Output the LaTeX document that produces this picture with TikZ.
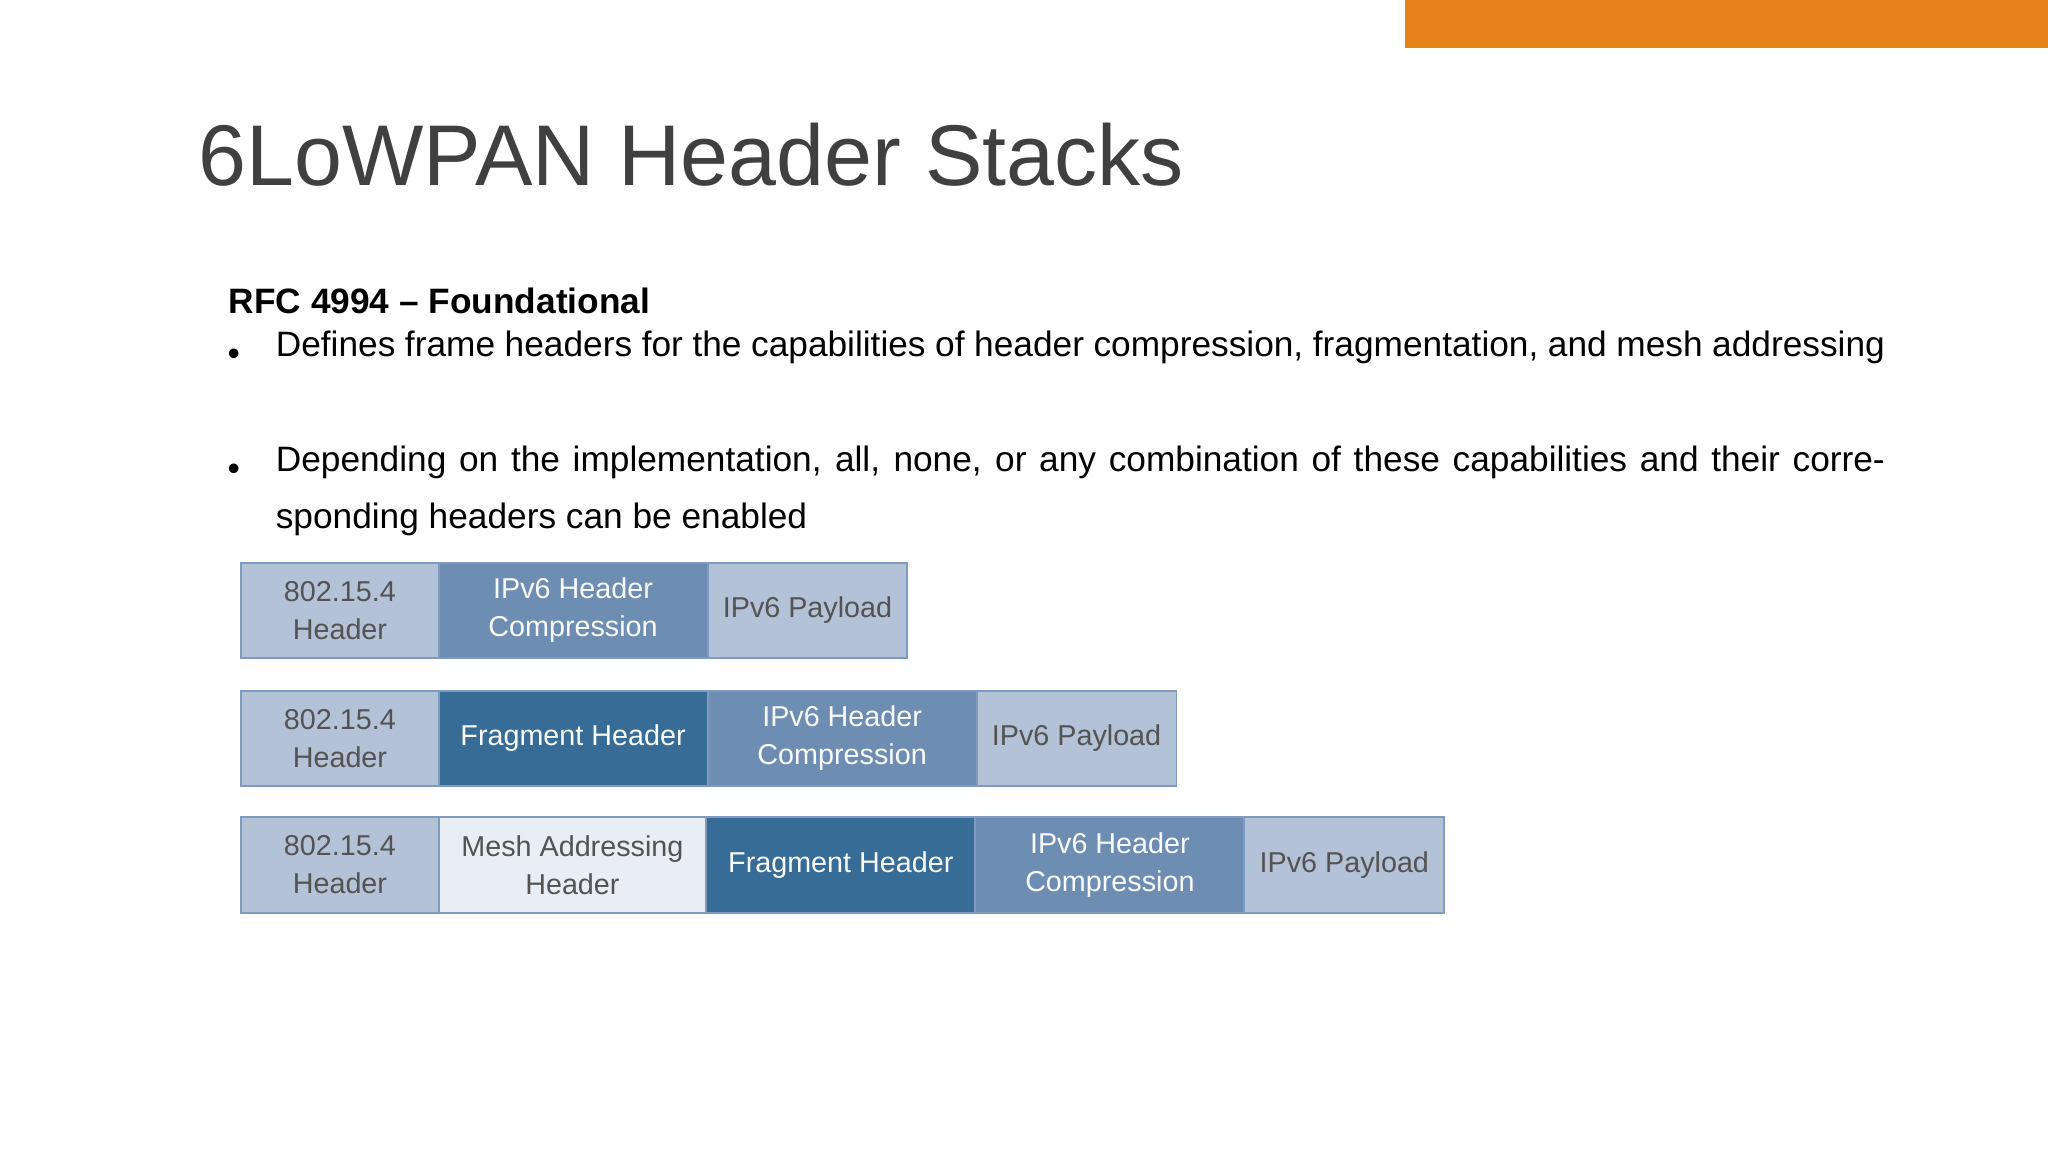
\documentclass[tikz,border=0pt]{standalone}
\usepackage{fontspec}
\setmainfont{Liberation Sans}
\definecolor{orng}{HTML}{E6821A}
\definecolor{ttl}{HTML}{404040}
\definecolor{bl}{HTML}{B3C2D6}
\definecolor{md}{HTML}{6E8DB2}
\definecolor{dk}{HTML}{376C96}
\definecolor{ms}{HTML}{E9EEF4}
\definecolor{bd}{HTML}{7F9CC0}
\tikzset{
 cell/.style={draw=bd,line width=1.5pt,inner sep=0pt,align=center,font=\fontsize{22}{29}\selectfont},
 lite/.style={cell,fill=bl,text=ttl!90},
 mesh/.style={cell,fill=ms,text=ttl!90},
 mid/.style={cell,fill=md,text=white!92!bl},
 dark/.style={cell,fill=dk,text=white!92!bl}
}
\newcommand{\cellat}[6]{\node[#1,minimum width=#3pt-#2pt,minimum height=73pt,anchor=north west] (#5) at (#2,-#4) {#6};}
\begin{document}
\begin{tikzpicture}[x=1pt,y=1pt]
\useasboundingbox (0,0) rectangle (1568,-882);
\fill[orng] (1076,0) rectangle (1568,-37);
\node[anchor=base west,text=ttl,font=\fontsize{66}{70}\selectfont,inner sep=0] (title) at (152,-142) {6LoWPAN Header Stacks};
\node[anchor=base west,font=\bfseries\fontsize{27}{32}\selectfont,inner sep=0] (head) at (175,-240) {RFC 4994 – Foundational};
\node[anchor=north west,inner sep=0,text width=1232pt,align=justify,font=\fontsize{27}{44}\selectfont] (b1) at (211,-253) {Defines frame headers for the capabilities of header compression, fragmentation, and mesh addressing};
\node[anchor=north west,inner sep=0,text width=1232pt,align=justify,font=\fontsize{27}{44}\selectfont] (b2) at (211,-341) {Depending on the implementation, all, none, or any combination of these capabilities and their corresponding headers can be enabled};
\node[anchor=base,font=\fontsize{27}{32}\selectfont,inner sep=0] (d1) at (179,-280) {•};
\node[anchor=base,font=\fontsize{27}{32}\selectfont,inner sep=0] (d2) at (179,-368) {•};
% row 1
\cellat{lite}{184}{335}{430}{r1a}{802.15.4\\Header}
\cellat{mid}{335}{541}{430}{r1b}{IPv6 Header\\Compression}
\cellat{lite}{541}{694}{430}{r1c}{IPv6 Payload}
% row 2
\cellat{lite}{184}{335}{528}{r2a}{802.15.4\\Header}
\cellat{dark}{335}{541}{528}{r2b}{Fragment Header}
\cellat{mid}{541}{747}{528}{r2c}{IPv6 Header\\Compression}
\cellat{lite}{747}{900}{528}{r2d}{IPv6 Payload}
% row 3
\cellat{lite}{184}{335}{625}{r3a}{802.15.4\\Header}
\cellat{mesh}{335}{540}{625}{r3b}{Mesh Addressing\\Header}
\cellat{dark}{540}{746}{625}{r3c}{Fragment Header}
\cellat{mid}{746}{952}{625}{r3d}{IPv6 Header\\Compression}
\cellat{lite}{952}{1105}{625}{r3e}{IPv6 Payload}
\end{tikzpicture}
\end{document}
